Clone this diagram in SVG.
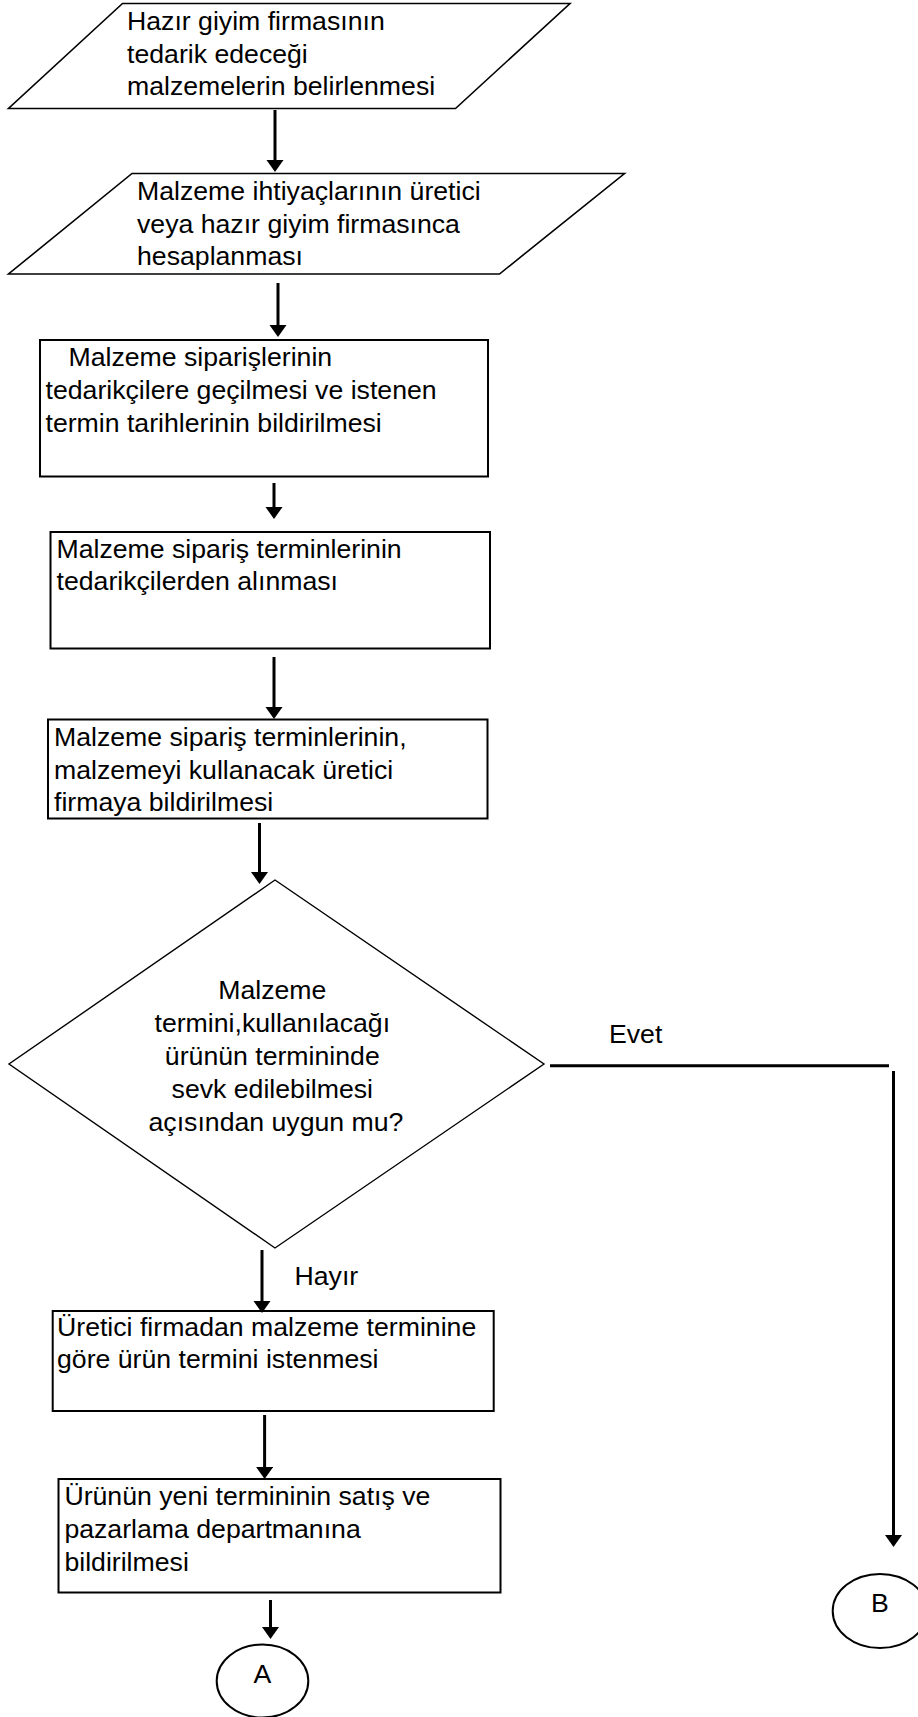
<svg xmlns="http://www.w3.org/2000/svg" width="918" height="1717" viewBox="0 0 918 1717">
  <style>
    .shape { fill: #ffffff; stroke: #000000; stroke-width: 1.6; }
    .box { fill: #ffffff; stroke: #000000; stroke-width: 2; }
    .dia { fill: #ffffff; stroke: #000000; stroke-width: 1.4; }
    .conn { fill: none; stroke: #000000; stroke-width: 3; }
    .t { font-family: "Liberation Sans", Arial, sans-serif; font-size: 26.67px; fill: #000000; }
    .c { text-anchor: middle; }
  </style>
  <defs>
    <marker id="arrow" markerUnits="userSpaceOnUse" markerWidth="14" markerHeight="18" refX="2" refY="8.5" orient="auto">
      <path d="M0,0 L12,8.5 L0,17 z" fill="#000000"/>
    </marker>
  </defs>
  <rect width="918" height="1717" fill="#ffffff"/>

  <!-- process steps -->
  <g id="step-determine">
    <polygon class="shape" points="122.5,3.5 570,3.5 455.5,108.5 8.5,108.5"/>
    <text class="t">
      <tspan x="127" y="30">Hazır giyim firmasının</tspan>
      <tspan x="127" y="62.5">tedarik edeceği</tspan>
      <tspan x="127" y="95">malzemelerin belirlenmesi</tspan>
    </text>
  </g>

  <g id="step-calculate">
    <polygon class="shape" points="132,173.5 624.5,173.5 499.5,274 8.5,274"/>
    <text class="t">
      <tspan x="137" y="200">Malzeme ihtiyaçlarının üretici</tspan>
      <tspan x="137" y="232.5">veya hazır giyim firmasınca</tspan>
      <tspan x="137" y="265">hesaplanması</tspan>
    </text>
  </g>

  <g id="step-order">
    <rect class="box" x="40" y="340" width="448" height="136.5"/>
    <text class="t">
      <tspan x="68.5" y="366">Malzeme siparişlerinin</tspan>
      <tspan x="45.5" y="399">tedarikçilere geçilmesi ve istenen</tspan>
      <tspan x="45.5" y="432">termin tarihlerinin bildirilmesi</tspan>
    </text>
  </g>

  <g id="step-receive">
    <rect class="box" x="50.5" y="532" width="439.5" height="116.5"/>
    <text class="t">
      <tspan x="56.5" y="558">Malzeme sipariş terminlerinin</tspan>
      <tspan x="56.5" y="590">tedarikçilerden alınması</tspan>
    </text>
  </g>

  <g id="step-notify">
    <rect class="box" x="48" y="719.5" width="439.5" height="99"/>
    <text class="t">
      <tspan x="54" y="746">Malzeme sipariş terminlerinin,</tspan>
      <tspan x="54" y="778.5">malzemeyi kullanacak üretici</tspan>
      <tspan x="54" y="811">firmaya bildirilmesi</tspan>
    </text>
  </g>

  <g id="decision">
    <polygon class="dia" points="275,880 544,1064 275,1248 9,1064"/>
    <text class="t c">
      <tspan x="276" y="999">Malzeme</tspan>
      <tspan x="276" y="1032">termini,kullanılacağı</tspan>
      <tspan x="276" y="1065">ürünün termininde</tspan>
      <tspan x="276" y="1098">sevk edilebilmesi</tspan>
      <tspan x="276" y="1131">açısından uygun mu?</tspan>
    </text>
  </g>

  <g id="step-request">
    <rect class="box" x="52.7" y="1311" width="441" height="100"/>
    <text class="t">
      <tspan x="57" y="1336">Üretici firmadan malzeme terminine</tspan>
      <tspan x="57" y="1368">göre ürün termini istenmesi</tspan>
    </text>
  </g>

  <g id="step-inform">
    <rect class="box" x="58.5" y="1479" width="442" height="113.5"/>
    <text class="t">
      <tspan x="64.4" y="1505">Ürünün yeni termininin satış ve</tspan>
      <tspan x="64.4" y="1538">pazarlama departmanına</tspan>
      <tspan x="64.4" y="1571">bildirilmesi</tspan>
    </text>
  </g>

  <!-- off-page connectors -->
  <g id="connector-a">
    <ellipse class="box" cx="262.5" cy="1681" rx="45.8" ry="36.5"/>
    <text class="t c" x="262.5" y="1683">A</text>
  </g>

  <g id="connector-b">
    <ellipse class="box" cx="880" cy="1611" rx="47.3" ry="37"/>
    <text class="t c" x="880" y="1612">B</text>
  </g>

  <!-- flow lines -->
  <g id="connectors">
    <line class="conn" x1="275" y1="110" x2="275" y2="162" marker-end="url(#arrow)"/>
    <line class="conn" x1="278" y1="283" x2="278" y2="327" marker-end="url(#arrow)"/>
    <line class="conn" x1="274" y1="483" x2="274" y2="509" marker-end="url(#arrow)"/>
    <line class="conn" x1="274" y1="657" x2="274" y2="709" marker-end="url(#arrow)"/>
    <line class="conn" x1="259.5" y1="823" x2="259.5" y2="874" marker-end="url(#arrow)"/>
    <line class="conn" x1="262" y1="1250" x2="262" y2="1303" marker-end="url(#arrow)"/>
    <line class="conn" x1="264.6" y1="1415" x2="264.6" y2="1469" marker-end="url(#arrow)"/>
    <line class="conn" x1="270.5" y1="1600" x2="270.5" y2="1629" marker-end="url(#arrow)"/>
    <line class="conn" x1="550" y1="1065.7" x2="889" y2="1065.7"/>
    <line class="conn" x1="893.5" y1="1071" x2="893.5" y2="1537" marker-end="url(#arrow)"/>
  </g>

  <!-- branch labels -->
  <g id="labels">
    <text class="t" x="609" y="1043">Evet</text>
    <text class="t" x="294.5" y="1285">Hayır</text>
  </g>
</svg>
